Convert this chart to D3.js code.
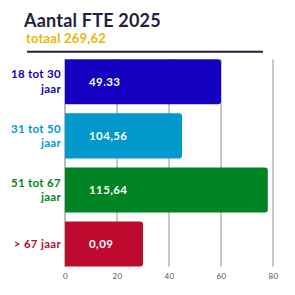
<!DOCTYPE html>
<html><head><meta charset="utf-8">
<script src="https://cdn.jsdelivr.net/npm/d3@7"></script>
<style>body{margin:0;background:#fff}svg{display:block}text{font-family:Lato,"Open Sans",sans-serif}</style>
</head><body>
<svg id="c" width="295" height="295"></svg>
<script>
const categories = ["18 tot 30 jaar","31 tot 50 jaar","51 tot 67 jaar","> 67 jaar"];
const values = [60, 45, 78, 30];
const valueLabels = ["49.33","104,56","115,64","0,09"];
const colors = ["#1400c0","#0099cc","#008423","#bd0b30"];
const ticks = [0,20,40,60,80];
const title = "Aantal FTE 2025";
const subtitle = "totaal 269,62";

const svg = d3.select("#c");
const x = d3.scaleLinear().domain([0,80]).range([65,273]);
const y = d3.scaleBand().domain(categories).range([54.8,271]).paddingInner(0.167).paddingOuter(0.083);

svg.append("text").attr("x",24).attr("y",27).attr("font-size",18).attr("font-weight",700).attr("letter-spacing",0.2).attr("fill","#231f40").text(title);
svg.append("text").attr("x",26).attr("y",43).attr("font-size",13).attr("font-weight",700).attr("letter-spacing",0.2).attr("fill","#f0b400").text(subtitle);
svg.append("line").attr("x1",27).attr("x2",263).attr("y1",51.7).attr("y2",51.7).attr("stroke","#231f40").attr("stroke-width",2);

const gTop = y.range()[0] + 4.5, gBottom = 266.7;
// gridlines
svg.append("g").selectAll("line").data(ticks.filter(t=>t>0)).join("line")
  .attr("x1",d=>x(d)).attr("x2",d=>x(d)).attr("y1",gTop).attr("y2",gBottom)
  .attr("stroke","#c8c8c8").attr("stroke-width",2);
svg.append("line").attr("x1",x(0)).attr("x2",x(0)).attr("y1",gTop).attr("y2",gBottom).attr("stroke","#777").attr("stroke-width",1);

// axis
const ax = svg.append("g").attr("transform",`translate(0,${gBottom})`).call(d3.axisBottom(x).tickValues(ticks).tickSize(0).tickPadding(7));
ax.select(".domain").remove();
ax.selectAll("text").attr("font-size",8).attr("fill","#555").attr("letter-spacing",0.3).style("font-family","Lato,sans-serif");

// bars (rounded right corners)
const r = 3;
svg.append("g").selectAll("path").data(categories).join("path")
  .attr("fill",(d,i)=>colors[i])
  .attr("d",(d,i)=>{
    const x0 = x(0), x1 = x(values[i]), y0 = y(d), h = y.bandwidth();
    return `M${x0},${y0}H${x1-r}Q${x1},${y0} ${x1},${y0+r}V${y0+h-r}Q${x1},${y0+h} ${x1-r},${y0+h}H${x0}Z`;
  });

// value labels
svg.append("g").selectAll("text").data(categories).join("text")
  .attr("x",89).attr("y",d=>y(d)+y.bandwidth()/2).attr("dy","0.35em")
  .attr("font-size",11.5).attr("font-weight",700).attr("letter-spacing",0.4).attr("fill","#fff")
  .text((d,i)=>valueLabels[i]);

// category labels with wrapping
const lh = 14.7;
svg.append("g").selectAll("text").data(categories).join("text")
  .attr("text-anchor","end").attr("font-size",11.5).attr("font-weight",700).attr("letter-spacing",0.3)
  .attr("fill",(d,i)=>colors[i])
  .each(function(d){
    const t = d3.select(this);
    const words = d.split(" ");
    const lines = [];
    let cur = [];
    const probe = t.append("tspan");
    words.forEach(w=>{
      const test = cur.concat([w]).join(" ");
      probe.text(test);
      if (probe.node().getComputedTextLength() > 56 && cur.length){ lines.push(cur.join(" ")); cur=[w]; }
      else cur.push(w);
    });
    lines.push(cur.join(" "));
    probe.remove();
    const cy = y(d)+y.bandwidth()/2;
    lines.forEach((l,k)=>{
      t.append("tspan").attr("x",61).attr("y",cy + (k-(lines.length-1)/2)*lh).attr("dy","0.35em").text(l);
    });
  });
</script>
</body></html>
